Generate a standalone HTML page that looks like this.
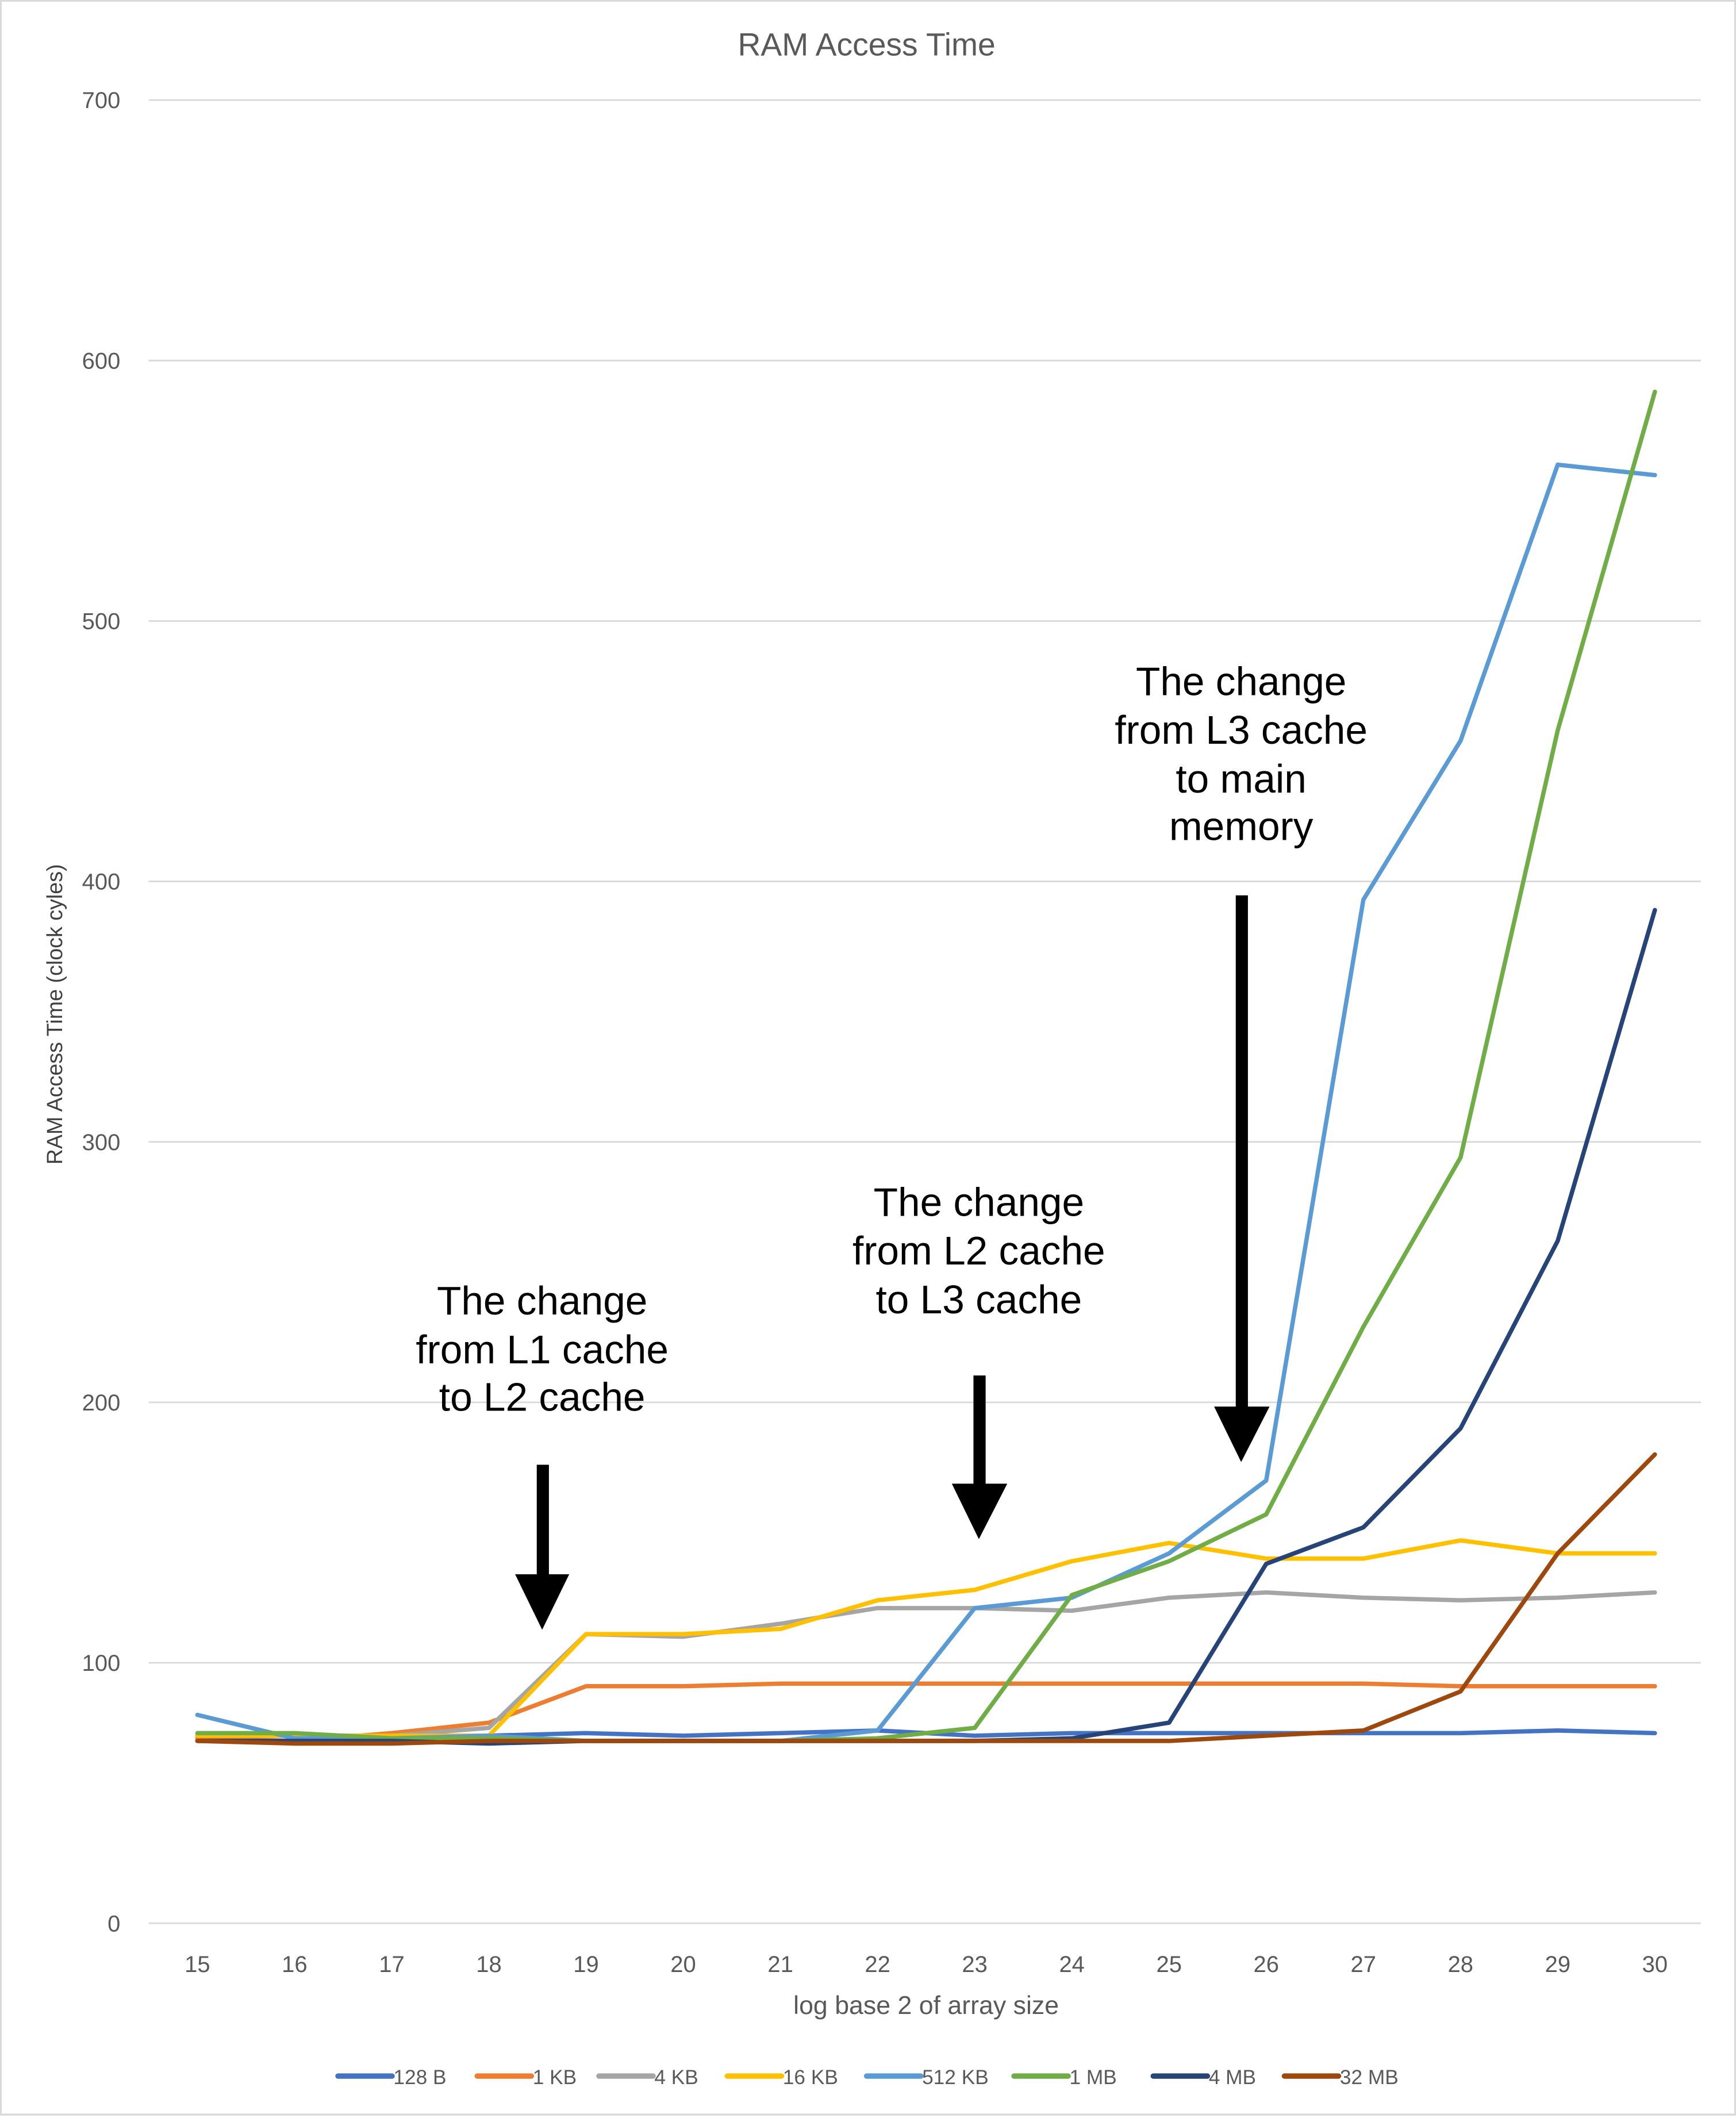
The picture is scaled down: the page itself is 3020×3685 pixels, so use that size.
<!DOCTYPE html>
<html><head><meta charset="utf-8"><style>
html,body{margin:0;padding:0;background:#fff}
svg{display:block}
text{font-family:"Liberation Sans",sans-serif}
</style></head><body>
<svg id="chart" width="3020" height="3685" viewBox="0 0 1284 1566" preserveAspectRatio="none" xmlns="http://www.w3.org/2000/svg">
<rect x="0.5" y="0.5" width="1283" height="1563" fill="#fff" stroke="#d9d9d9" stroke-width="1.5"/>
<text x="641" y="41" text-anchor="middle" font-size="23.5" fill="#595959">RAM Access Time</text>
<g id="grid"></g>
<g id="yticks"></g>
<g id="xticks"></g>
<text x="0" y="0" transform="translate(46,750) rotate(-90)" text-anchor="middle" font-size="16" fill="#404040">RAM Access Time (clock cyles)</text>
<text x="685" y="1489" text-anchor="middle" font-size="19" fill="#595959">log base 2 of array size</text>
<g id="series"></g>
<g id="annotations" fill="#000">
  <text font-size="29.5" text-anchor="middle"><tspan x="401" y="972">The change</tspan><tspan x="401" y="1008">from L1 cache</tspan><tspan x="401" y="1043">to L2 cache</tspan></text>
  <text font-size="29.5" text-anchor="middle"><tspan x="724" y="899">The change</tspan><tspan x="724" y="935">from L2 cache</tspan><tspan x="724" y="971">to L3 cache</tspan></text>
  <text font-size="29.5" text-anchor="middle"><tspan x="918" y="514">The change</tspan><tspan x="918" y="550">from L3 cache</tspan><tspan x="918" y="586">to main</tspan><tspan x="918" y="621">memory</tspan></text>
  <g><rect x="397" y="1083" width="9" height="84"/><polygon points="381,1164 421,1164 401,1205"/></g>
  <g><rect x="720" y="1017" width="9" height="83"/><polygon points="704,1097 745,1097 724,1138"/></g>
  <g><rect x="914" y="662" width="9" height="380"/><polygon points="898,1040 939,1040 918,1081"/></g>
</g>
<g id="legend"></g>
</svg>
<script>
const categories=[15,16,17,18,19,20,21,22,23,24,25,26,27,28,29,30];
const yTicks=[0,100,200,300,400,500,600,700];
const seriesNames=["128 B","1 KB","4 KB","16 KB","512 KB","1 MB","4 MB","32 MB"];
const seriesColors=["#4472C4","#ED7D31","#A5A5A5","#FFC000","#5B9BD5","#70AD47","#264478","#9E480E"];
const s128B=[72,72,72,72,73,72,73,74,72,73,73,73,73,73,74,73];
const s1KB=[71,70,73,77,91,91,92,92,92,92,92,92,92,91,91,91];
const s4KB=[72,72,72,75,111,110,115,121,121,120,125,127,125,124,125,127];
const s16KB=[72,72,72,72,111,111,113,124,128,139,146,140,140,147,142,142];
const s512KB=[80,71,71,72,70,70,70,74,121,125,142,170,393,454,560,556];
const s1MB=[73,73,71,71,70,70,70,71,75,126,139,157,229,294,458,588];
const s4MB=[70,70,70,69,70,70,70,70,70,71,77,138,152,190,262,389];
const s32MB=[70,69,69,70,70,70,70,70,70,70,70,72,74,89,142,180];
const seriesValues=[s128B,s1KB,s4KB,s16KB,s512KB,s1MB,s4MB,s32MB];
const legendX=[250,353,443,538,641,750,853,950];

const NS="http://www.w3.org/2000/svg";
const x0=110,x1=1258,y0=1422,yTop=74;
const xs=i=>146+i*(1224-146)/(categories.length-1);
const ys=v=>y0-(v/700)*(y0-yTop);
function mk(tag,attrs,parent){const e=document.createElementNS(NS,tag);for(const k in attrs)e.setAttribute(k,attrs[k]);parent.appendChild(e);return e;}
const grid=document.getElementById('grid'),yt=document.getElementById('yticks'),xt=document.getElementById('xticks');
yTicks.forEach(v=>{
  const l=mk('line',{x1:x0,x2:x1,y1:ys(v),y2:ys(v),stroke:'#d9d9d9','stroke-width':1.2},grid);
  
  
  const t=mk('text',{x:89,y:ys(v)+6,'text-anchor':'end','font-size':17,fill:'#595959'},yt);
  t.textContent=v;
  
  
});
categories.forEach((c,i)=>{
  const t=mk('text',{x:xs(i),y:1458,'text-anchor':'middle','font-size':17,fill:'#595959'},xt);
  t.textContent=c;
  
  
});
const sg=document.getElementById('series');
seriesValues.forEach((vals,k)=>{
  const p=mk('polyline',{points:vals.map((v,i)=>xs(i)+','+ys(v)).join(' '),fill:'none',stroke:seriesColors[k],'stroke-width':3.2,'stroke-linejoin':'round','stroke-linecap':'round'},sg);
  
  
});
const lg=document.getElementById('legend');
seriesNames.forEach((n,k)=>{
  const g=mk('g',{},lg);
  
  
  mk('line',{x1:legendX[k],x2:legendX[k]+40,y1:1535,y2:1535,stroke:seriesColors[k],'stroke-width':4,'stroke-linecap':'round'},g);
  const t=mk('text',{x:legendX[k]+41,y:1541,'font-size':15,fill:'#595959'},g);
  t.textContent=n;
});
</script>
</body></html>
